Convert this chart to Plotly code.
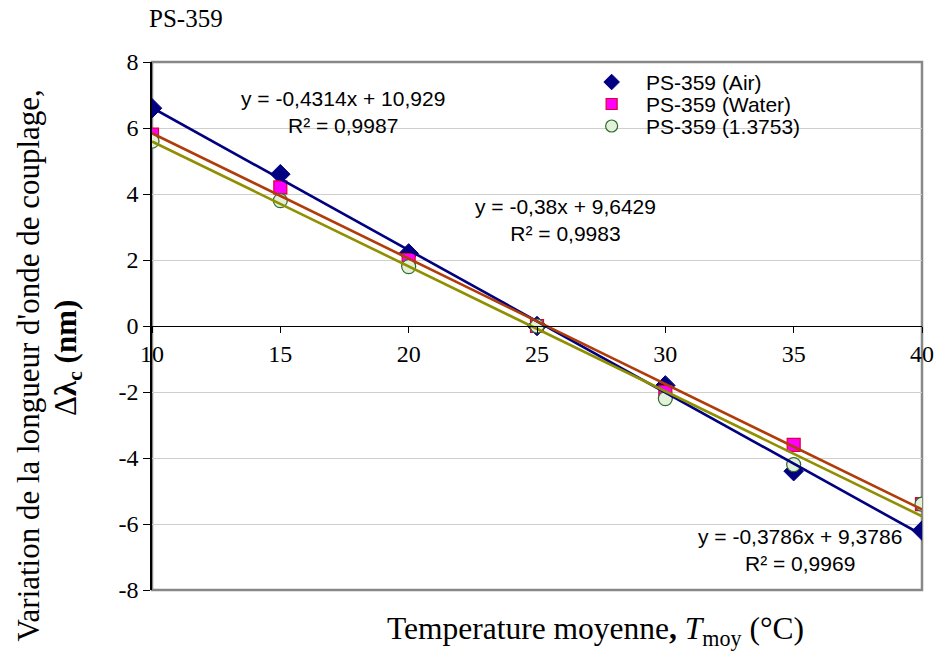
import numpy as np
import plotly.graph_objects as go

# Mean temperature (°C)
temperature = [10, 15, 20, 25, 30, 35, 40]

# Coupling wavelength shift (nm) for each surrounding medium
shift_air = [6.6, 4.6, 2.2, 0.0, -1.8, -4.4, -6.2]
shift_water = [5.8, 4.2, 2.0, 0.0, -2.0, -3.6, -5.4]
shift_1_3753 = [5.6, 3.8, 1.8, 0.0, -2.2, -4.2, -5.4]

series_names = ["PS-359 (Air)", "PS-359 (Water)", "PS-359 (1.3753)"]
equation_labels = [
    "y = -0,4314x + 10,929<br>R² = 0,9987",
    "y = -0,38x + 9,6429<br>R² = 0,9983",
    "y = -0,3786x + 9,3786<br>R² = 0,9969",
]
y_ticks = [-8, -6, -4, -2, 0, 2, 4, 6, 8]
x_ticks = [10, 15, 20, 25, 30, 35, 40]

SERIF = "Liberation Serif"
SANS = "Liberation Sans"

# Plot area in pixels
PW, PH = 779, 528

marker_styles = [
    dict(symbol="diamond", size=15, color="#000080", line=dict(color="#000080", width=1)),
    dict(symbol="square", size=13, color="#FF00FF", line=dict(color="#E00030", width=1.2)),
    dict(symbol="circle", size=14, color="#E3F0DA", line=dict(color="#2E6B2E", width=1.2)),
]
legend_marker_styles = [
    dict(symbol="diamond", size=12, color="#000080", line=dict(color="#000080", width=1)),
    dict(symbol="square", size=11, color="#FF00FF", line=dict(color="#E00030", width=1.2)),
    dict(symbol="circle", size=12, color="#E3F0DA", line=dict(color="#2E6B2E", width=1.2)),
]
trend_colors = ["#000080", "#B03C0A", "#8F8F00"]

fig = go.Figure()

all_series = [shift_air, shift_water, shift_1_3753]

for name, ys, mk in zip(series_names, all_series, marker_styles):
    fig.add_trace(go.Scatter(x=temperature, y=ys, mode="markers", name=name,
                             marker=mk, showlegend=False))

# Linear trend lines (least squares) over the temperature range
x_arr = np.array(temperature, dtype=float)
x_line = np.array([x_arr.min(), x_arr.max()])
for ys, col in zip(all_series, trend_colors):
    slope, intercept = np.polyfit(x_arr, np.array(ys, dtype=float), 1)
    fig.add_trace(go.Scatter(x=x_line, y=slope * x_line + intercept, mode="lines",
                             line=dict(color=col, width=2.6), showlegend=False,
                             hoverinfo="skip"))

# Legend drawn on a pixel-scaled overlay of the plot area
legend_x, legend_y0, legend_dy = 465, 20, 22
annotations = []
for i, (name, mk) in enumerate(zip(series_names, legend_marker_styles)):
    ly = legend_y0 + i * legend_dy
    fig.add_trace(go.Scatter(x=[legend_x], y=[ly], xaxis="x2", yaxis="y2", mode="markers",
                             marker=mk, showlegend=False, hoverinfo="skip"))
    annotations.append(dict(x=legend_x + 33, y=ly, xref="x2", yref="y2", text=name,
                            showarrow=False, xanchor="left", yanchor="middle",
                            font=dict(family=SANS, size=21, color="black")))

# Equation labels for each trend line
label_positions = [(17.45, 6.47), (26.1, 3.2), (35.25, -6.8)]
for text, (ax_, ay_) in zip(equation_labels, label_positions):
    annotations.append(dict(x=ax_, y=ay_, xref="x", yref="y", text=text, showarrow=False,
                            font=dict(family=SANS, size=21, color="black"),
                            align="center", xanchor="center", yanchor="middle"))

# Axis titles and chart label
annotations += [
    dict(x=-0.16, y=0.425, xref="paper", yref="paper", textangle=-90,
         text="Variation de la longueur d'onde de couplage,", showarrow=False,
         font=dict(family=SERIF, size=31, color="black"), xanchor="center", yanchor="middle"),
    dict(x=-0.11, y=0.44, xref="paper", yref="paper", textangle=-90,
         text="Δ<b>λ<sub>c</sub> (nm)</b>", showarrow=False,
         font=dict(family=SERIF, size=31, color="black"), xanchor="center", yanchor="middle"),
    dict(x=0.5755, y=-0.077, xref="paper", yref="paper",
         text="Temperature moyenne<b>,</b> <i>T</i><sub>moy</sub> (°C)", showarrow=False,
         font=dict(family=SERIF, size=31.5, color="black"), xanchor="center", yanchor="middle"),
    dict(x=-0.0065, y=1.083, xref="paper", yref="paper", text="PS-359", showarrow=False,
         font=dict(family=SERIF, size=25, color="black"), xanchor="left", yanchor="middle"),
]

# Plot-area frame
shapes = [dict(type="rect", xref="paper", yref="paper", x0=0, y0=0, x1=1, y1=1,
               line=dict(color="#888888", width=2.5), layer="below")]

fig.update_layout(
    width=946, height=654,
    margin=dict(l=152, r=15, t=62, b=64),
    paper_bgcolor="white", plot_bgcolor="white",
    showlegend=False,
    annotations=annotations,
    shapes=shapes,
    xaxis=dict(range=[10, 40], tickvals=x_ticks, ticktext=[str(v) for v in x_ticks],
               ticks="outside", ticklen=6,
               tickcolor="black", showline=True, linecolor="black", linewidth=1.3,
               showgrid=False, zeroline=False, anchor="free", position=0.5,
               tickfont=dict(family=SERIF, size=24, color="black")),
    yaxis=dict(range=[-8, 8], tickvals=y_ticks, ticktext=[str(v) for v in y_ticks],
               ticks="outside", ticklen=7,
               tickcolor="black", showline=True, linecolor="black", linewidth=1.5,
               showgrid=True, gridcolor="#CFCFCF", gridwidth=1, zeroline=False,
               tickfont=dict(family=SERIF, size=24, color="black")),
    xaxis2=dict(range=[0, PW], overlaying="x", visible=False, fixedrange=True),
    yaxis2=dict(range=[PH, 0], overlaying="y", visible=False, fixedrange=True),
)

fig.write_html("out.html")
